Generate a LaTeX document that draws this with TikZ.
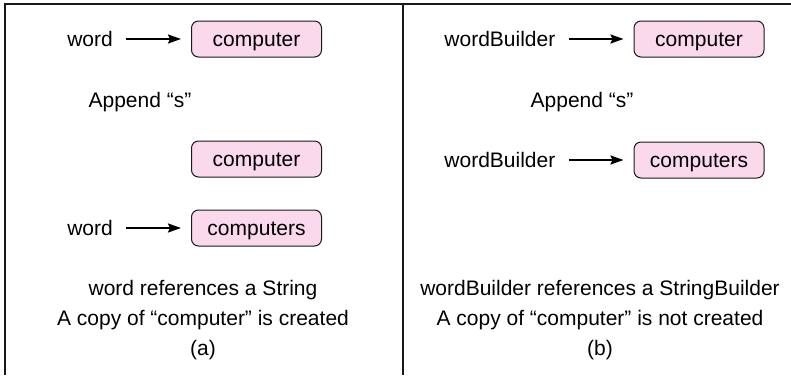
\documentclass[tikz,border=0pt]{standalone}
\usepackage{fontspec}
\setmainfont{Liberation Sans}
\usepackage{xcolor}
\usepackage{tikz}
\usetikzlibrary{arrows.meta, positioning}
\definecolor{strfill}{RGB}{250,217,236}
\definecolor{framegray}{RGB}{25,25,25}
\tikzset{
  strobj/.style={rectangle, rounded corners=7pt, draw=framegray, line width=1pt, fill=strfill,
                 minimum width=130pt, minimum height=36pt, inner sep=0pt,
                 text height=16pt, text depth=2pt, font=\fontsize{21}{25}\selectfont},
  refname/.style={inner sep=0pt, font=\fontsize{21}{25}\selectfont},
  note/.style={inner sep=0pt, font=\fontsize{21}{25}\selectfont},
  caption/.style={align=center, inner sep=0pt, font=\fontsize{21}{30}\selectfont},
  ptr/.style={-{Stealth[length=13pt, width=9pt, inset=2pt]}, line width=2pt,
              shorten <=13pt, shorten >=10pt},
  panel/.style={draw=framegray, line width=1.5pt},
}

\begin{document}
\begin{tikzpicture}[x=1pt, y=-1pt]
\useasboundingbox (0,0) rectangle (791,375);
% ramka i podzial na dwa panele
\draw[panel] (5,375) -- (5,4) -- (791,4);
\draw[panel, line width=2pt] (403,4) -- (403,375);

% (a) String
\node[strobj] (strA) at (256.5,39) {computer};
\node[refname, left=78pt of strA] (wordA) {word};
\node[note, anchor=base] (appA) at (140,107) {Append “s”};
\node[strobj] (strB) at (256.5,159) {computer};
\node[strobj] (strC) at (256.5,228) {computers};
\node[refname, left=78pt of strC] (wordC) {word};
\node[caption, anchor=north] (capA) at (203,280) {word references a String\\ A copy of “computer” is created\\ (a)};

\draw[ptr] (wordA) -- (strA);
\draw[ptr] (wordC) -- (strC);

% (b) StringBuilder
\node[strobj] (sbA) at (699,39) {computer};
\node[refname, left=78pt of sbA] (wbA) {wordBuilder};
\node[note, anchor=base] (appB) at (582,107) {Append “s”};
\node[strobj] (sbB) at (699,160) {computers};
\node[refname, left=78pt of sbB] (wbB) {wordBuilder};
\node[caption, anchor=north] (capB) at (600,280) {wordBuilder references a StringBuilder\\ A copy of “computer” is not created\\ (b)};

\draw[ptr] (wbA) -- (sbA);
\draw[ptr] (wbB) -- (sbB);
\end{tikzpicture}
\end{document}
